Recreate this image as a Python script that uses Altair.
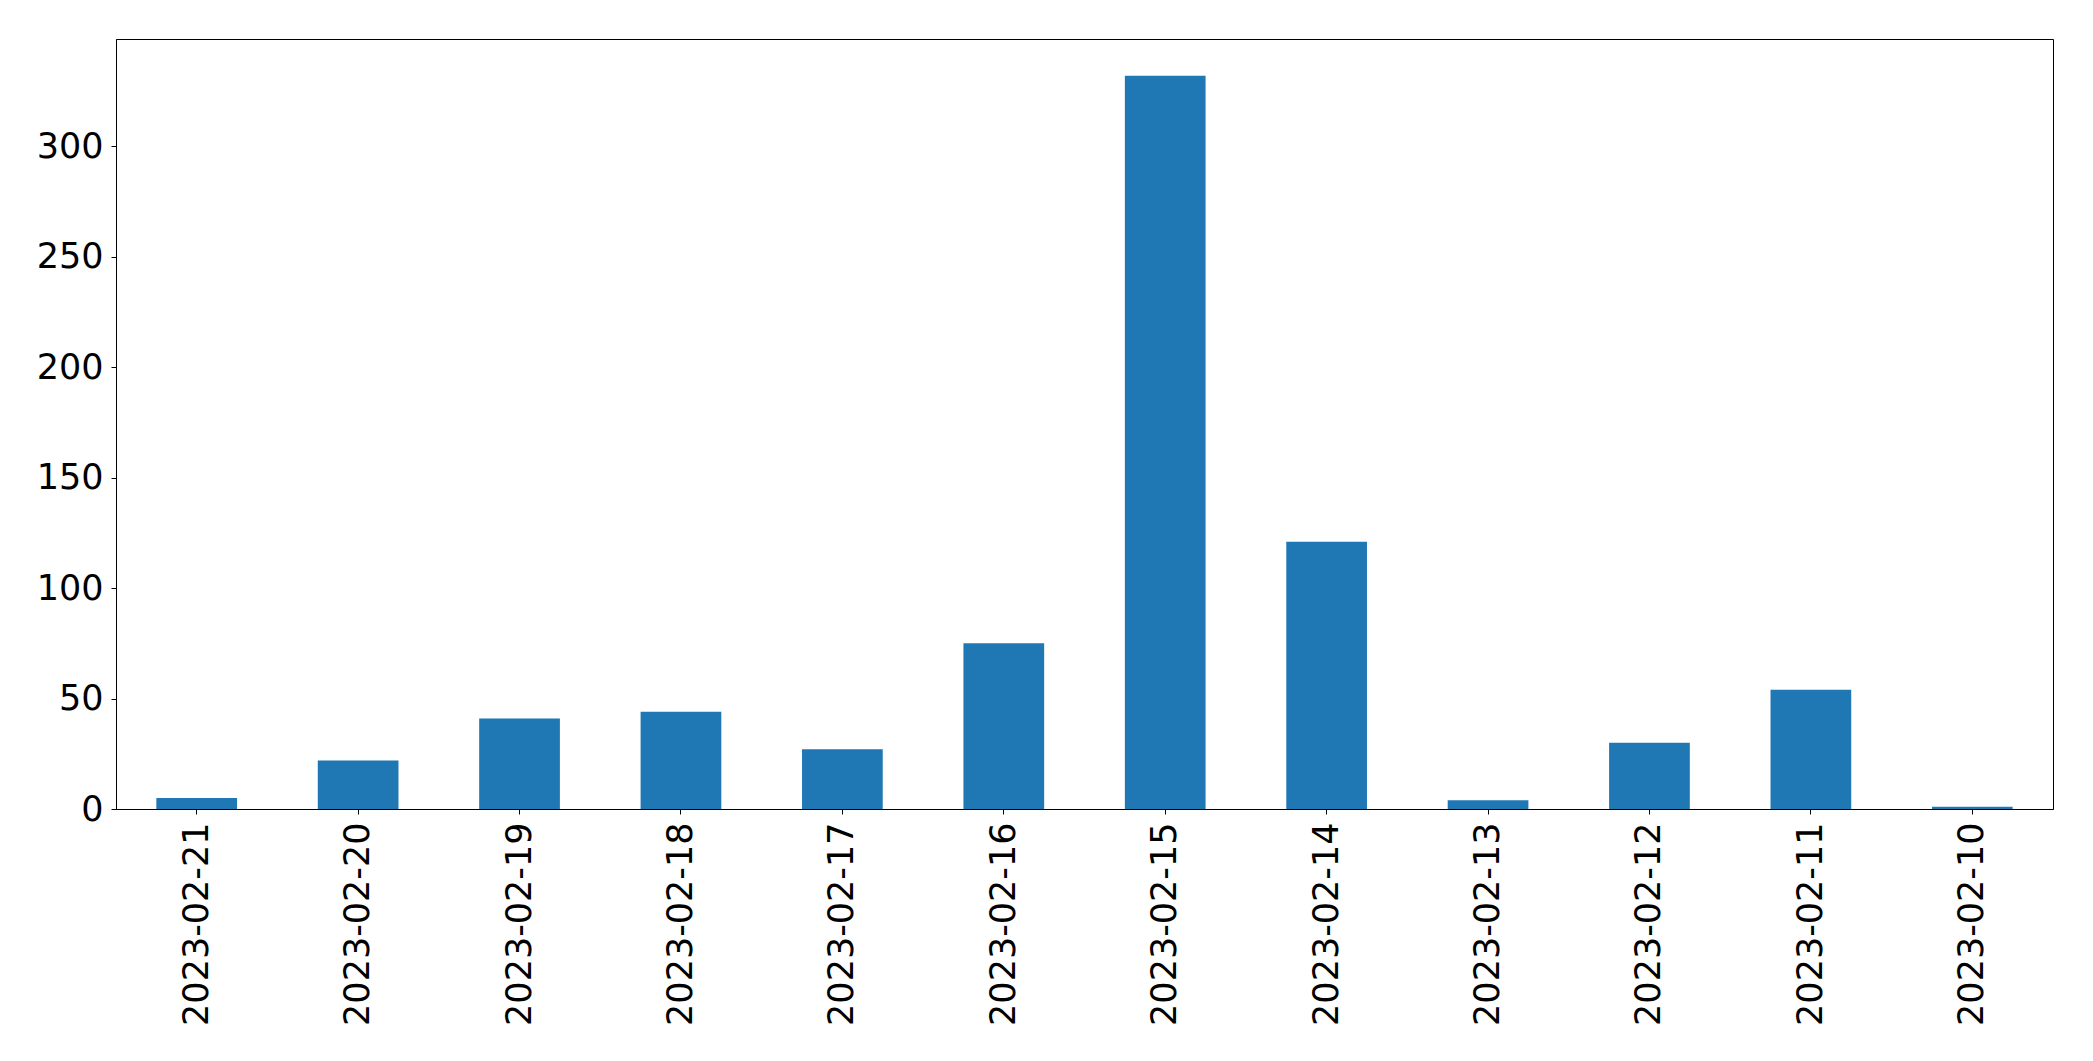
import altair as alt
import pandas as pd

dates = ["2023-02-21", "2023-02-20", "2023-02-19", "2023-02-18", "2023-02-17", "2023-02-16",
         "2023-02-15", "2023-02-14", "2023-02-13", "2023-02-12", "2023-02-11", "2023-02-10"]
counts = [5, 22, 41, 44, 27, 75, 332, 121, 4, 30, 54, 1]

df = pd.DataFrame({"date": dates, "count": counts})

chart = alt.Chart(df).mark_bar(color="#1f77b4").encode(
    x=alt.X("date:N", sort=None, title=None,
            scale=alt.Scale(paddingInner=0.5, paddingOuter=0.25),
            axis=alt.Axis(labelAngle=270, labelFont="DejaVu Sans", labelFontSize=35,
                          labelColor="black", tickColor="black", domainColor="black",
                          tickSize=5, labelPadding=8, labelAlign="right", labelBaseline="middle",
                          labelLimit=0, labelOverlap=False)),
    y=alt.Y("count:Q", title=None,
            scale=alt.Scale(domain=[0, 348.6], nice=False, zero=True),
            axis=alt.Axis(values=[0, 50, 100, 150, 200, 250, 300], grid=False,
                          labelFont="DejaVu Sans", labelFontSize=35, labelColor="black",
                          tickColor="black", domainColor="black", tickSize=5, labelPadding=8)),
).properties(
    width=1937, height=770,
    autosize=alt.AutoSizeParams(type="none"),
    padding={"left": 108, "top": 31, "right": 20, "bottom": 240},
).configure_view(
    stroke="black", strokeWidth=1
).configure_axis(
    domainWidth=1, tickWidth=1
)

chart.save("out.html", embed_options={"renderer": "svg", "actions": False})
